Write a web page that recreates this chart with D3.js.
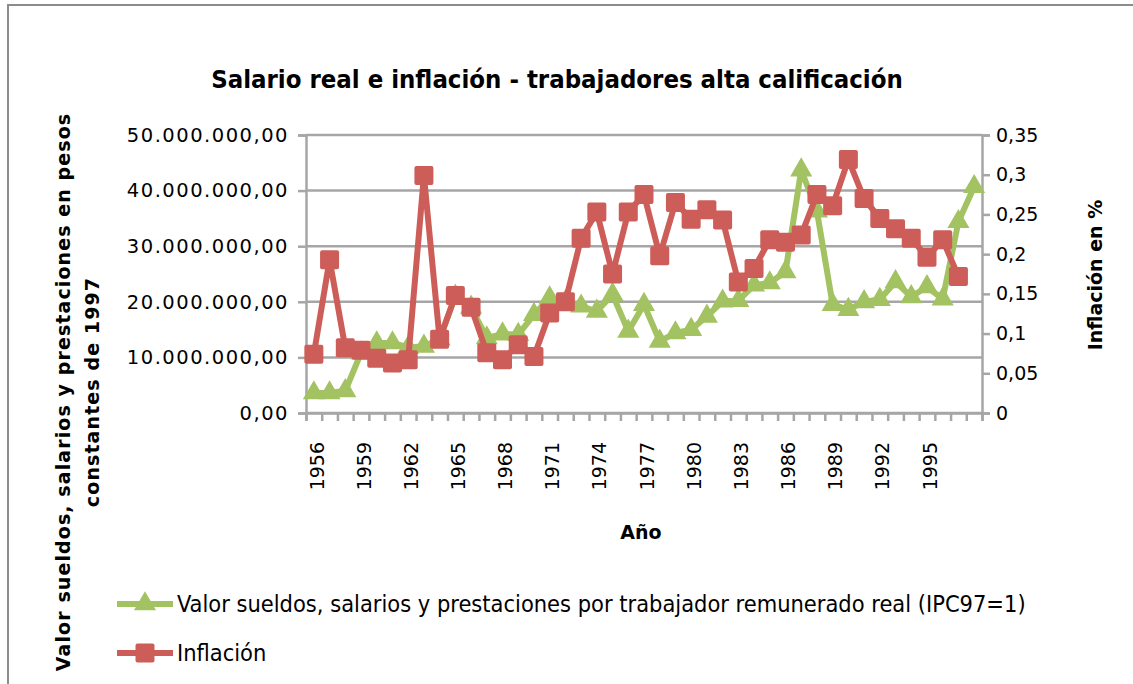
<!DOCTYPE html>
<html>
<head>
<meta charset="utf-8">
<title>Salario real e inflación</title>
<script src="https://d3js.org/d3.v7.min.js"></script>
<style>
  body { margin: 0; background: #fff; }
  svg { display: block; }
  .tick text { fill: #000; }
</style>
</head>
<body>
<svg id="chart" width="1133" height="684"></svg>
<script>
// data
const years = d3.range(1956, 1999);
const yearLabels = ["1956", "1959", "1962", "1965", "1968", "1971", "1974",
  "1977", "1980", "1983", "1986", "1989", "1992", "1995"];

// real wage per paid worker (pesos of 1997), 1956-1998
const wages = [
  3.6e6, 3.6e6, 4.0e6, 10.8e6, 12.6e6, 12.6e6, 11.8e6, 12.0e6, 13.3e6, 21.0e6,
  19.0e6, 13.5e6, 14.2e6, 14.1e6, 17.7e6, 20.7e6, 20.0e6, 19.2e6, 18.3e6, 21.3e6,
  14.7e6, 19.5e6, 12.9e6, 14.4e6, 15.0e6, 17.4e6, 20.1e6, 20.2e6, 23.0e6, 23.4e6,
  25.4e6, 43.7e6, 36.3e6, 19.5e6, 18.6e6, 20.0e6, 20.4e6, 23.6e6, 20.9e6, 22.7e6,
  20.5e6, 34.4e6, 40.7e6
];

// inflation (fraction), 1956-1997
const inflation = [
  0.074, 0.193, 0.082, 0.079, 0.069, 0.063, 0.067, 0.299, 0.093, 0.148,
  0.133, 0.076, 0.067, 0.086, 0.071, 0.126, 0.140, 0.220, 0.253, 0.175,
  0.253, 0.275, 0.198, 0.265, 0.244, 0.256, 0.243, 0.165, 0.182, 0.218,
  0.215, 0.224, 0.275, 0.261, 0.319, 0.270, 0.245, 0.232, 0.220, 0.196,
  0.218, 0.172
];

const leftTicks = d3.range(0, 50000001, 10000000);
const rightTicks = d3.range(0, 8).map(d => d * 0.05);

const seriesNames = [
  "Valor sueldos, salarios y prestaciones por trabajador remunerado real (IPC97=1)",
  "Inflación"
];

const green = "#a3c262";
const red = "#cd5d58";
const grey = "#a6a6a6";
const narrow = "'DejaVu Sans Condensed', 'Liberation Sans Narrow', sans-serif";
const wide = "'DejaVu Sans', sans-serif";

const svg = d3.select("#chart");

// outer chart frame
svg.append("rect")
    .attr("x", 8)
    .attr("y", 5)
    .attr("width", 1140)
    .attr("height", 700)
    .attr("fill", "none")
    .attr("stroke", "#8c8c8c")
    .attr("stroke-width", 2);

const plot = { left: 306, right: 982, top: 135, bottom: 413 };

const x = d3.scaleBand()
    .domain(years)
    .range([plot.left, plot.right]);

const xEdge = d3.scaleLinear()
    .domain([0, years.length])
    .range([plot.left, plot.right]);

const yL = d3.scaleLinear()
    .domain([0, 50000000])
    .range([plot.bottom, plot.top]);

const yR = d3.scaleLinear()
    .domain([0, 0.35])
    .range([plot.bottom, plot.top]);

const cx = d => x(d) + x.bandwidth() / 2;

// title
svg.append("text")
    .attr("x", 557)
    .attr("y", 88)
    .attr("text-anchor", "middle")
    .style("font-family", narrow)
    .style("font-weight", "bold")
    .style("font-size", "25.5px")
    .text("Salario real e inflación - trabajadores alta calificación");

// gridlines
svg.append("g")
  .selectAll("line")
  .data(leftTicks)
  .join("line")
    .attr("x1", plot.left)
    .attr("x2", plot.right)
    .attr("y1", d => yL(d))
    .attr("y2", d => yL(d))
    .attr("stroke", grey)
    .attr("stroke-width", 2.5);

// left axis
const fmtLeft = d3.formatLocale({ decimal: ",", thousands: ".", grouping: [3], currency: ["$", ""] }).format(",.2f");
const gL = svg.append("g")
    .attr("transform", `translate(${plot.left},0)`)
    .call(d3.axisLeft(yL).tickValues(leftTicks).tickSize(8).tickPadding(9).tickFormat(fmtLeft));

// right axis
const fmtRight = d => String(+d.toFixed(2)).replace(".", ",");
const gR = svg.append("g")
    .attr("transform", `translate(${plot.right},0)`)
    .call(d3.axisRight(yR).tickValues(rightTicks).tickSize(8).tickPadding(6).tickFormat(fmtRight));

// bottom axis: tick marks at category edges, labels at category centres
const gB = svg.append("g")
    .attr("transform", `translate(0,${plot.bottom})`)
    .call(d3.axisBottom(xEdge).tickValues(d3.range(years.length + 1)).tickSize(8).tickFormat(""));

const gBL = svg.append("g")
    .attr("transform", `translate(0,${plot.bottom})`)
    .call(d3.axisBottom(x).tickSize(0)
      .tickFormat(d => yearLabels.includes(String(d)) ? String(d) : ""));
gBL.select(".domain").remove();
gBL.selectAll(".tick text")
    .attr("transform", "rotate(-90)")
    .attr("text-anchor", "end")
    .attr("x", -29)
    .attr("y", 3)
    .attr("dy", "0.35em");

[gL, gR, gB].forEach(g => {
  g.select(".domain").attr("stroke", grey).attr("stroke-width", 2.5);
  g.selectAll(".tick line").attr("stroke", grey).attr("stroke-width", 2.5);
});
[gL, gR, gBL].forEach(g => {
  g.selectAll(".tick text")
      .style("font-family", wide)
      .style("font-size", "19px");
});
gL.selectAll(".tick text")
    .style("font-size", "19.5px")
    .style("letter-spacing", "1.5px");

// axis titles
const titleStyle = sel => sel
    .style("font-family", wide)
    .style("font-weight", "bold")
    .style("font-size", "19px")
    .attr("text-anchor", "middle");

svg.append("text")
    .attr("transform", "translate(70,392) rotate(-90)")
    .call(titleStyle)
    .style("letter-spacing", "1.1px")
    .text("Valor sueldos, salarios y prestaciones en pesos");

svg.append("text")
    .attr("transform", "translate(99,392) rotate(-90)")
    .call(titleStyle)
    .style("letter-spacing", "1.1px")
    .text("constantes de 1997");

svg.append("text")
    .attr("transform", "translate(1102,275) rotate(-90)")
    .call(titleStyle)
    .text("Inflación en %");

svg.append("text")
    .attr("x", 641)
    .attr("y", 539)
    .call(titleStyle)
    .text("Año");

// series
const triangle = d3.symbol().type(d3.symbolTriangle).size(150);
const square = 19;

const wageLine = d3.line()
    .x((d, i) => cx(years[i]))
    .y(d => yL(d));

svg.append("path")
    .datum(wages)
    .attr("d", wageLine)
    .attr("fill", "none")
    .attr("stroke", green)
    .attr("stroke-width", 6)
    .attr("stroke-linejoin", "round");

svg.append("g")
  .selectAll("path")
  .data(wages)
  .join("path")
    .attr("d", triangle)
    .attr("transform", (d, i) => `translate(${cx(years[i])},${yL(d)})`)
    .attr("fill", green)
    .attr("stroke", green)
    .attr("stroke-width", 2);

const inflLine = d3.line()
    .x((d, i) => cx(years[i]))
    .y(d => yR(d));

svg.append("path")
    .datum(inflation)
    .attr("d", inflLine)
    .attr("fill", "none")
    .attr("stroke", red)
    .attr("stroke-width", 6)
    .attr("stroke-linejoin", "round");

svg.append("g")
  .selectAll("rect")
  .data(inflation)
  .join("rect")
    .attr("x", (d, i) => cx(years[i]) - square / 2)
    .attr("y", d => yR(d) - square / 2)
    .attr("width", square)
    .attr("height", square)
    .attr("rx", 2)
    .attr("fill", red);

// legend
const legend = svg.append("g");
const legendRows = [
  { name: seriesNames[0], color: green, y: 604, marker: "tri" },
  { name: seriesNames[1], color: red, y: 653, marker: "sq" }
];
legendRows.forEach(r => {
  legend.append("line")
      .attr("x1", 117).attr("x2", 173)
      .attr("y1", r.y).attr("y2", r.y)
      .attr("stroke", r.color)
      .attr("stroke-width", 6);
  if (r.marker === "tri") {
    legend.append("path")
        .attr("d", triangle)
        .attr("transform", `translate(145,${r.y})`)
        .attr("fill", r.color)
        .attr("stroke", r.color)
        .attr("stroke-width", 2);
  } else {
    legend.append("rect")
        .attr("x", 145 - square / 2).attr("y", r.y - square / 2)
        .attr("width", square).attr("height", square)
        .attr("rx", 2)
        .attr("fill", r.color);
  }
  legend.append("text")
      .attr("x", 177)
      .attr("y", r.y)
      .attr("dy", "0.35em")
      .style("font-family", narrow)
      .style("font-size", "23.4px")
      .text(r.name);
});
</script>
</body>
</html>
